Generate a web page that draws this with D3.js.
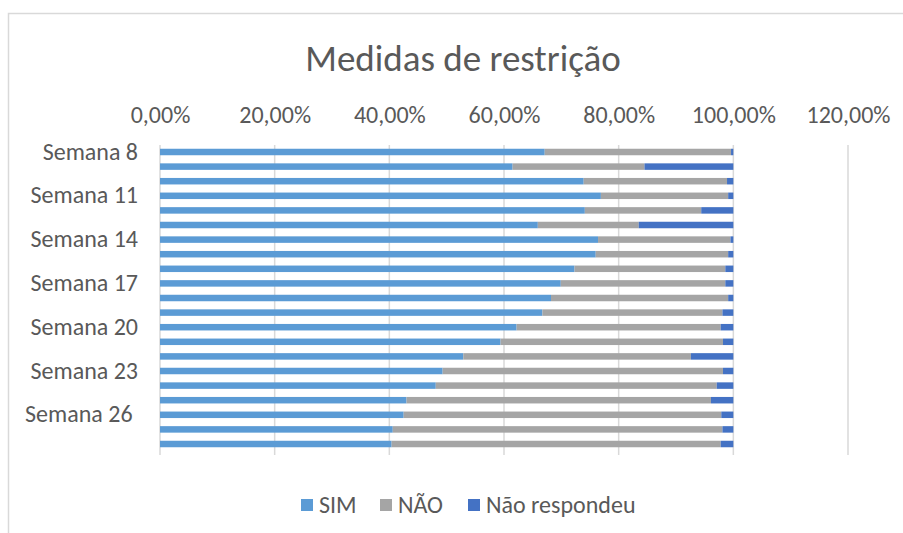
<!DOCTYPE html>
<html>
<head>
<meta charset="utf-8">
<script src="https://cdn.jsdelivr.net/npm/d3@7"></script>
<style>
  body { margin: 0; background: #fff; }
  svg text { font-family: Carlito, Calibri, Lato, sans-serif; fill: #595959; }
</style>
</head>
<body>
<svg id="chart" width="903" height="533"></svg>
<script>
// Weeks (top to bottom)
const weeks = ["Semana 8", "Semana 9", "Semana 10", "Semana 11", "Semana 12", "Semana 13", "Semana 14",
  "Semana 15", "Semana 16", "Semana 17", "Semana 18", "Semana 19", "Semana 20", "Semana 21",
  "Semana 22", "Semana 23", "Semana 24", "Semana 25", "Semana 26 ", "Semana 27", "Semana 28"];
// only every third week gets a label
const shownWeeks = ["Semana 8", "Semana 11", "Semana 14", "Semana 17", "Semana 20", "Semana 23", "Semana 26 "];

// shares
const sim = [0.671, 0.615, 0.739, 0.769, 0.741, 0.659, 0.764,
  0.760, 0.723, 0.699, 0.682, 0.667, 0.622, 0.594,
  0.529, 0.493, 0.481, 0.430, 0.425, 0.406, 0.404];
const nao = [0.325, 0.230, 0.250, 0.222, 0.203, 0.176, 0.231,
  0.231, 0.263, 0.287, 0.309, 0.314, 0.356, 0.388,
  0.397, 0.489, 0.490, 0.531, 0.554, 0.575, 0.574];
const naoResp = [0.004, 0.155, 0.011, 0.009, 0.056, 0.165, 0.005,
  0.009, 0.014, 0.014, 0.009, 0.019, 0.022, 0.018,
  0.074, 0.018, 0.029, 0.039, 0.021, 0.019, 0.022];

const seriesNames = ["SIM", "NÃO", "Não respondeu"];
const colors = ["#5B9BD5", "#A5A5A5", "#4472C4"];
const ticks = [0, 0.2, 0.4, 0.6, 0.8, 1.0, 1.2];

const svg = d3.select("#chart");

// chart frame (runs off the right/bottom edge like the original)
svg.append("rect")
  .attr("x", 8.5).attr("y", 13.5)
  .attr("width", 1000).attr("height", 1000)
  .attr("fill", "none").attr("stroke", "#D9D9D9").attr("stroke-width", 1.5);

// title
svg.append("text")
  .attr("x", 463).attr("y", 71)
  .attr("text-anchor", "middle")
  .style("font-size", "37px")
  .text("Medidas de restrição");

const x = d3.scaleLinear().domain([0, 1.2]).range([160, 848]);
const y = d3.scaleBand().domain(weeks).range([144.7, 451.3])
  .paddingInner(0.555).paddingOuter(0.2775);

// gridlines
svg.append("g")
  .selectAll("line")
  .data(ticks)
  .join("line")
  .attr("x1", d => x(d)).attr("x2", d => x(d))
  .attr("y1", 145).attr("y2", 455)
  .attr("stroke", "#D9D9D9").attr("stroke-width", 1.5);

// top axis labels
const fmt = d => (d * 100).toFixed(2).replace(".", ",") + "%";
const xAxis = d3.axisTop(x).tickValues(ticks).tickFormat(fmt).tickSize(0).tickPadding(0);
const gx = svg.append("g").attr("transform", "translate(0,123)").call(xAxis);
gx.select(".domain").remove();
gx.selectAll("text").style("font-size", "24px").attr("fill", "#595959").attr("dy", 0);

// left category labels
const yAxis = d3.axisLeft(y).tickValues(shownWeeks).tickSize(0).tickPadding(0);
const gy = svg.append("g").attr("transform", "translate(138,0)").call(yAxis);
gy.select(".domain").remove();
gy.selectAll("text").style("font-size", "24px").attr("fill", "#595959")
  .attr("xml:space", "preserve").style("white-space", "pre");

// stacked bars
const rows = weeks.map((w, i) => ({ week: w, SIM: sim[i], "NÃO": nao[i], "Não respondeu": naoResp[i] }));
const stack = d3.stack().keys(seriesNames)(rows);

svg.append("g")
  .selectAll("g")
  .data(stack)
  .join("g")
  .attr("fill", (d, i) => colors[i])
  .selectAll("rect")
  .data(d => d)
  .join("rect")
  .attr("x", d => x(d[0]))
  .attr("width", d => x(d[1]) - x(d[0]))
  .attr("y", d => y(d.data.week))
  .attr("height", y.bandwidth());

// legend
const legendX = [301, 380, 468];
const legend = svg.append("g")
  .selectAll("g")
  .data(seriesNames)
  .join("g")
  .attr("transform", (d, i) => `translate(${legendX[i]},499)`);
legend.append("rect").attr("width", 12).attr("height", 12).attr("fill", (d, i) => colors[i]);
legend.append("text").attr("x", 18).attr("y", 14).style("font-size", "24px").text(d => d);
</script>
</body>
</html>
